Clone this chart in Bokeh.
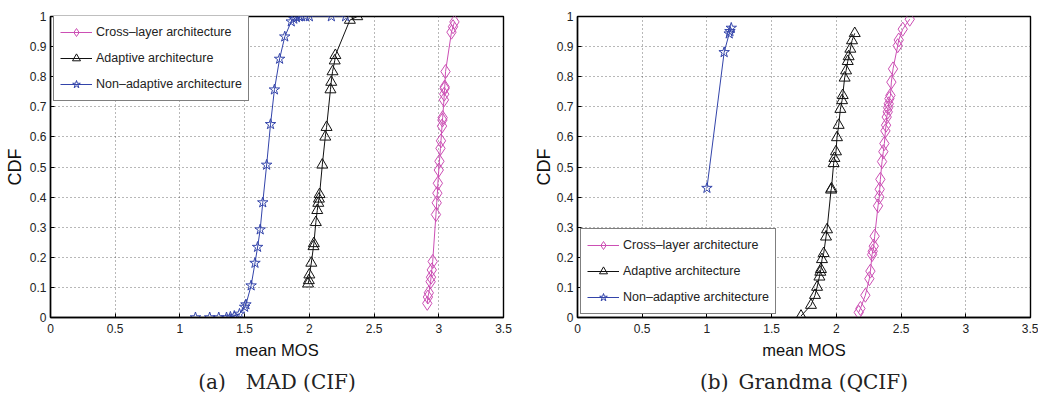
from bokeh.plotting import figure
from bokeh.models import FixedTicker, Title, Legend
from bokeh.layouts import row
from bokeh.embed import file_html
from bokeh.resources import INLINE

# ---------------- data ----------------
x_ticks = [0, 0.5, 1, 1.5, 2, 2.5, 3, 3.5]
y_ticks = [0, 0.1, 0.2, 0.3, 0.4, 0.5, 0.6, 0.7, 0.8, 0.9, 1]
series_names = ["Cross\u2013layer architecture", "Adaptive architecture", "Non\u2013adaptive architecture"]

# (a) MAD (CIF)
a_cross_x = [2.911, 2.916, 2.923, 2.937, 2.94, 2.946, 2.953, 2.978, 2.984, 2.989, 2.993, 3.0, 3.005, 3.013,
             3.017, 3.025, 3.028, 3.030, 3.04, 3.042, 3.045, 3.046, 3.052, 3.098, 3.11, 3.121]
a_cross_y = [0.047, 0.068, 0.082, 0.119, 0.134, 0.158, 0.186, 0.342, 0.381, 0.413, 0.446, 0.49, 0.519, 0.562,
             0.587, 0.636, 0.656, 0.664, 0.723, 0.742, 0.761, 0.766, 0.817, 0.948, 0.966, 0.982]
a_adapt_x = [1.99, 1.996, 2.0, 2.015, 2.032, 2.035, 2.05, 2.061, 2.069, 2.074, 2.079, 2.10, 2.123, 2.133,
             2.163, 2.169, 2.179, 2.196, 2.201, 2.313, 2.37]
a_adapt_y = [0.112, 0.123, 0.142, 0.181, 0.236, 0.246, 0.316, 0.356, 0.38, 0.394, 0.409, 0.507, 0.600, 0.632,
             0.757, 0.782, 0.817, 0.853, 0.871, 0.988, 1.0]
a_nonad_x = [1.12, 1.23, 1.30, 1.36, 1.39, 1.42, 1.46, 1.50, 1.51, 1.55, 1.58, 1.60, 1.62, 1.64, 1.67, 1.70,
             1.73, 1.77, 1.81, 1.86, 1.88, 1.90, 1.92, 1.94, 1.97, 2.00, 2.17, 2.28]
a_nonad_y = [0, 0, 0, 0, 0.002, 0.005, 0.012, 0.035, 0.043, 0.106, 0.181, 0.234, 0.292, 0.382, 0.507, 0.642,
             0.757, 0.859, 0.933, 0.983, 0.992, 0.997, 1, 1, 1, 1, 1, 1]

# (b) Grandma (QCIF)
b_cross_x = [2.173, 2.186, 2.224, 2.255, 2.263, 2.276, 2.281, 2.289, 2.296, 2.322, 2.332, 2.335, 2.34, 2.353,
             2.363, 2.371, 2.379, 2.384, 2.389, 2.397, 2.400, 2.405, 2.410, 2.418, 2.425, 2.438, 2.474, 2.482,
             2.513, 2.567]
b_cross_y = [0.017, 0.03, 0.074, 0.129, 0.154, 0.209, 0.22, 0.237, 0.27, 0.371, 0.4, 0.426, 0.459, 0.518,
             0.551, 0.578, 0.62, 0.639, 0.666, 0.683, 0.697, 0.71, 0.727, 0.738, 0.782, 0.826, 0.903, 0.922,
             0.958, 0.991]
b_adapt_x = [1.727, 1.804, 1.835, 1.851, 1.869, 1.876, 1.881, 1.889, 1.902, 1.92, 1.928, 1.959, 1.962, 1.979,
             1.985, 1.997, 2.005, 2.018, 2.031, 2.044, 2.049, 2.064, 2.075, 2.088, 2.095, 2.108, 2.121, 2.142]
b_adapt_y = [0.005, 0.041, 0.074, 0.101, 0.135, 0.151, 0.160, 0.193, 0.213, 0.268, 0.292, 0.424, 0.428, 0.512,
             0.529, 0.551, 0.598, 0.639, 0.692, 0.721, 0.738, 0.796, 0.82, 0.851, 0.867, 0.892, 0.92, 0.944]
b_nonad_x = [1.0, 1.133, 1.172, 1.178, 1.188]
b_nonad_y = [0.43, 0.881, 0.943, 0.951, 0.962]

COLORS = ["#CC4FB4", "#111111", "#3344AA"]
MARKERS = ["diamond", "triangle", "star"]
MSIZE = [14, 11, 11]
SANS = "Liberation Sans"


def make_panel(series, caption, legend_loc, min_left, min_right, ylab_standoff):
    p = figure(width=519, height=399, x_range=(0, 3.5), y_range=(0, 1),
               output_backend="svg", toolbar_location=None,
               min_border_left=min_left, min_border_right=min_right,
               min_border_top=16, min_border_bottom=81,
               background_fill_color="white", border_fill_color="white")
    p.outline_line_color = "black"
    p.outline_line_width = 1.4

    for ax, ticks in ((p.xaxis[0], x_ticks), (p.yaxis[0], y_ticks)):
        ax.ticker = FixedTicker(ticks=ticks)
        ax.major_tick_in = 4
        ax.major_tick_out = 0
        ax.minor_tick_in = 0
        ax.minor_tick_out = 0
        ax.axis_line_color = "black"
        ax.axis_line_width = 1.4
        ax.major_tick_line_color = "black"
        ax.major_label_text_font = SANS
        ax.major_label_text_font_size = "12px"
        ax.major_label_text_color = "#222222"
        ax.axis_label_text_font = SANS
        ax.axis_label_text_font_style = "normal"
        ax.axis_label_text_color = "#111111"
    p.xaxis[0].major_label_overrides = {0: "0", 1: "1", 2: "2", 3: "3"}
    p.yaxis[0].major_label_overrides = {0: "0", 1: "1"}
    p.xaxis[0].axis_label = "mean MOS"
    p.xaxis[0].axis_label_text_font_size = "16.5px"
    p.xaxis[0].major_label_standoff = 6
    p.xaxis[0].axis_label_standoff = 5
    p.yaxis[0].axis_label = "CDF"
    p.yaxis[0].axis_label_text_font_size = "18px"
    p.yaxis[0].major_label_standoff = 4
    p.yaxis[0].axis_label_standoff = ylab_standoff

    for g in (p.xgrid[0], p.ygrid[0]):
        g.grid_line_color = "#333333"
        g.grid_line_alpha = 0.7
        g.grid_line_dash = "1 3"
        g.grid_line_width = 1
    p.xgrid[0].ticker = FixedTicker(ticks=x_ticks)
    p.ygrid[0].ticker = FixedTicker(ticks=y_ticks)

    items = []
    for i, (xs, ys) in enumerate(series):
        ln = p.line(xs, ys, line_color=COLORS[i], line_width=1)
        sc = p.scatter(xs, ys, marker=MARKERS[i], size=MSIZE[i], line_color=COLORS[i],
                       fill_color=None, line_width=1)
        items.append((series_names[i], [ln, sc]))

    leg = Legend(items=items, location=legend_loc,
                 label_text_font=SANS, label_text_font_size="12.5px", label_text_color="#222222",
                 border_line_color="black", border_line_width=1.5,
                 background_fill_color="white", background_fill_alpha=1,
                 glyph_width=32, glyph_height=20, label_height=20, label_standoff=4,
                 spacing=6, padding=6, margin=0)
    p.add_layout(leg, "center")

    t = Title(text=caption, align="center", text_font="DejaVu Serif",
              text_font_size="20px", text_font_style="normal", text_color="#222222",
              standoff=12)
    p.add_layout(t, "below")
    return p


pa = make_panel([(a_cross_x, a_cross_y), (a_adapt_x, a_adapt_y), (a_nonad_x, a_nonad_y)],
                "(a)\u2003MAD (CIF)", (3, 216), 50, 16, 2)
pb = make_panel([(b_cross_x, b_cross_y), (b_adapt_x, b_adapt_y), (b_nonad_x, b_nonad_y)],
                "(b)\u2002Grandma (QCIF)", (3, 3), 58, 8, 0)

layout = row(pa, pb, spacing=0)
open("out.html", "w").write(file_html(layout, INLINE))
